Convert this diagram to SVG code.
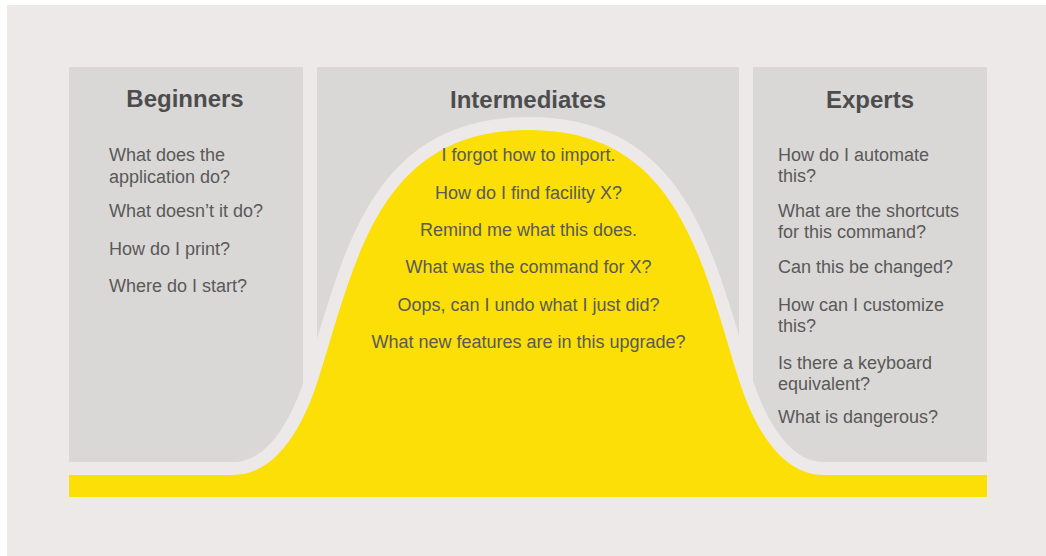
<svg xmlns="http://www.w3.org/2000/svg" width="1046" height="556" viewBox="0 0 1046 556">
  <style>
    .panel { fill: #D9D8D7; }
    .title { font-family: "Liberation Sans", Arial, sans-serif; font-weight: bold; font-size: 24px; fill: #4D4D4D; text-anchor: middle; }
    .body { font-family: "Liberation Sans", Arial, sans-serif; font-size: 18px; fill: #595959; }
    .mid { text-anchor: middle; }
  </style>
  <defs>
    <path id="bellLine" d="M 60 475 H 233 C 285 475 310 405 318 380 C 356 260 378.5 130 528.5 130 C 678.5 130 701 260 739 380 C 747 405 772 475 824 475 H 987"/>
  </defs>
  <rect x="0" y="0" width="1046" height="556" fill="#FFFFFF"/>
  <rect x="7" y="5" width="1039" height="551" fill="#EEE9E9"/>

  <g id="beginners">
    <rect class="panel" x="69" y="67" width="234" height="395"/>
  </g>
  <g id="intermediates">
    <rect class="panel" x="317" y="67" width="422" height="395"/>
  </g>
  <g id="experts">
    <rect class="panel" x="753" y="67" width="234" height="395"/>
  </g>

  <g id="bell">
    <use href="#bellLine" fill="none" stroke="#EEE9E9" stroke-width="26"/>
    <path d="M 69 475 H 233 C 285 475 310 405 318 380 C 356 260 378.5 130 528.5 130 C 678.5 130 701 260 739 380 C 747 405 772 475 824 475 H 987 V 497 H 69 Z" fill="#FBDF07"/>
  </g>

  <g id="beginners-text">
    <text class="title" x="185" y="107">Beginners</text>
    <text class="body" x="109" y="161">What does the</text>
    <text class="body" x="109" y="182.5">application do?</text>
    <text class="body" x="109" y="217">What doesn’t it do?</text>
    <text class="body" x="109" y="254.5">How do I print?</text>
    <text class="body" x="109" y="291.5">Where do I start?</text>
  </g>

  <g id="intermediates-text">
    <text class="title" x="528" y="108">Intermediates</text>
    <text class="body mid" x="528.5" y="161">I forgot how to import.</text>
    <text class="body mid" x="528.5" y="198.5">How do I find facility X?</text>
    <text class="body mid" x="528.5" y="235.5">Remind me what this does.</text>
    <text class="body mid" x="528.5" y="273">What was the command for X?</text>
    <text class="body mid" x="528.5" y="310.5">Oops, can I undo what I just did?</text>
    <text class="body mid" x="528.5" y="347.5">What new features are in this upgrade?</text>
  </g>

  <g id="experts-text">
    <text class="title" x="870" y="108">Experts</text>
    <text class="body" x="778" y="160.7">How do I automate</text>
    <text class="body" x="778" y="182.3">this?</text>
    <text class="body" x="778" y="216.7">What are the shortcuts</text>
    <text class="body" x="778" y="238.3">for this command?</text>
    <text class="body" x="778" y="272.7">Can this be changed?</text>
    <text class="body" x="778" y="310.7">How can I customize</text>
    <text class="body" x="778" y="331.7">this?</text>
    <text class="body" x="778" y="369.3">Is there a keyboard</text>
    <text class="body" x="778" y="390">equivalent?</text>
    <text class="body" x="778" y="423.3">What is dangerous?</text>
  </g>
</svg>
